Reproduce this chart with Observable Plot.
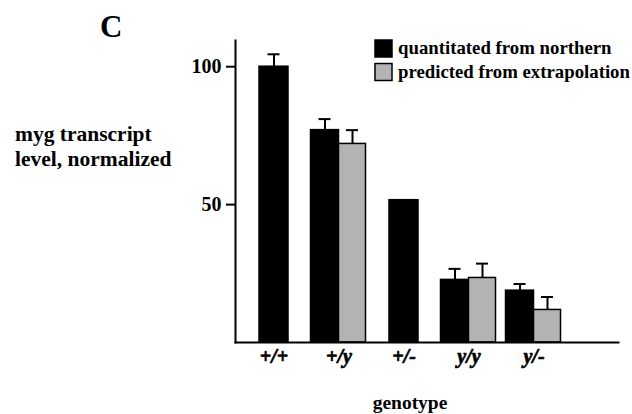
<!DOCTYPE html>
<html><head><meta charset="utf-8">
<script src="https://cdn.jsdelivr.net/npm/d3@7"></script>
<script src="https://cdn.jsdelivr.net/npm/@observablehq/plot@0.6"></script>
<style>
body{margin:0;background:#fff;}
#wrap{width:632px;height:414px;}
</style></head><body>
<div id="wrap"></div>
<script>
const genotypes = ["+/+", "+/y", "+/-", "y/y", "y/-"];
const northern = [100, 77, 51.6, 22.7, 18.8];
const northernErr = [4.5, 4, null, 4, 2.4];
const predicted = [null, 72, null, 23.4, 11.8];
const predictedErr = [null, 5, null, 5.2, 4.7];
const yTicks = [50, 100];
const seriesNames = ["quantitated from northern", "predicted from extrapolation"];
const seriesColors = ["#000000", "#b3b3b3"];

const rows = genotypes.flatMap((g, i) => {
  const paired = predicted[i] != null;
  const r = [{genotype: g, series: seriesNames[0], value: northern[i], err: northernErr[i], paired}];
  if (paired) r.push({genotype: g, series: seriesNames[1], value: predicted[i], err: predictedErr[i], paired});
  return r;
});
const singleN = rows.filter(d => !d.paired);
const pairN = rows.filter(d => d.paired && d.series === seriesNames[0]);
const pairP = rows.filter(d => d.series === seriesNames[1]);
const withErr = a => a.filter(d => d.err != null);
const errTop = d => d.value + d.err;

const font = "'Liberation Serif', 'Times New Roman', serif";
const errStyle = {stroke: "black", strokeWidth: 2};

const plot = Plot.plot({
  width: 632, height: 414,
  marginLeft: 235, marginRight: 14, marginTop: 40, marginBottom: 72,
  style: {fontFamily: font, fontWeight: "bold", fontSize: "17px", background: "white", color: "black"},
  x: {type: "band", domain: genotypes, range: [240.5, 565.5], padding: 0, axis: null},
  y: {domain: [0, 109.5], axis: null},
  marks: [
    Plot.barY(singleN, {x: "genotype", y: "value", fill: seriesColors[0], stroke: "black", strokeWidth: 1.5, insetLeft: 18, insetRight: 18}),
    Plot.barY(pairN, {x: "genotype", y: "value", fill: seriesColors[0], stroke: "black", strokeWidth: 1.5, insetLeft: 4.5, insetRight: 32.5}),
    Plot.barY(pairP, {x: "genotype", y: "value", fill: seriesColors[1], stroke: "black", strokeWidth: 1.5, insetLeft: 32.5, insetRight: 5.5}),
    Plot.ruleX(withErr(singleN), {x: "genotype", y1: "value", y2: errTop, ...errStyle}),
    Plot.tickY(withErr(singleN), {x: "genotype", y: errTop, insetLeft: 26.5, insetRight: 26.5, ...errStyle}),
    Plot.ruleX(withErr(pairN), {x: "genotype", y1: "value", y2: errTop, dx: -14, ...errStyle}),
    Plot.tickY(withErr(pairN), {x: "genotype", y: errTop, insetLeft: 12.5, insetRight: 40.5, ...errStyle}),
    Plot.ruleX(withErr(pairP), {x: "genotype", y1: "value", y2: errTop, dx: 13.5, ...errStyle}),
    Plot.tickY(withErr(pairP), {x: "genotype", y: errTop, insetLeft: 40, insetRight: 13, ...errStyle}),
    Plot.frame({anchor: "left", stroke: "black", strokeWidth: 2}),
    Plot.frame({anchor: "bottom", stroke: "black", strokeWidth: 2}),
    Plot.axisY({ticks: yTicks, tickSize: 9, tickPadding: 5, tickFormat: d => String(d), fontSize: 20, fontWeight: "bold", strokeWidth: 2, label: null}),
    Plot.text(genotypes, {x: d => d, frameAnchor: "bottom", dy: 20, fontSize: 20, fontWeight: 900, fontStyle: "italic", fontFamily: font, fill: "black", stroke: "black", strokeWidth: 0.7})
  ]
});
document.getElementById("wrap").appendChild(plot);

const svg = d3.select(plot);
const txt = (x, y, s, size, anchor = "start") => svg.append("text")
  .attr("x", x).attr("y", y).attr("text-anchor", anchor)
  .attr("font-family", font).attr("font-weight", "bold").attr("font-size", size)
  .attr("fill", "black").text(s);
txt(100, 37, "C", 31);
txt(15, 141, "myg transcript", 21.5);
txt(15, 166, "level, normalized", 21.5);
txt(410, 409, "genotype", 19.5, "middle");
seriesNames.forEach((s, i) => {
  svg.append("rect").attr("x", 375).attr("y", 40 + i * 23.5).attr("width", 17).attr("height", 17)
    .attr("fill", seriesColors[i]).attr("stroke", "black").attr("stroke-width", 1.5);
  txt(398, 54 + i * 23.5, s, 18.8);
});
</script>
</body></html>
